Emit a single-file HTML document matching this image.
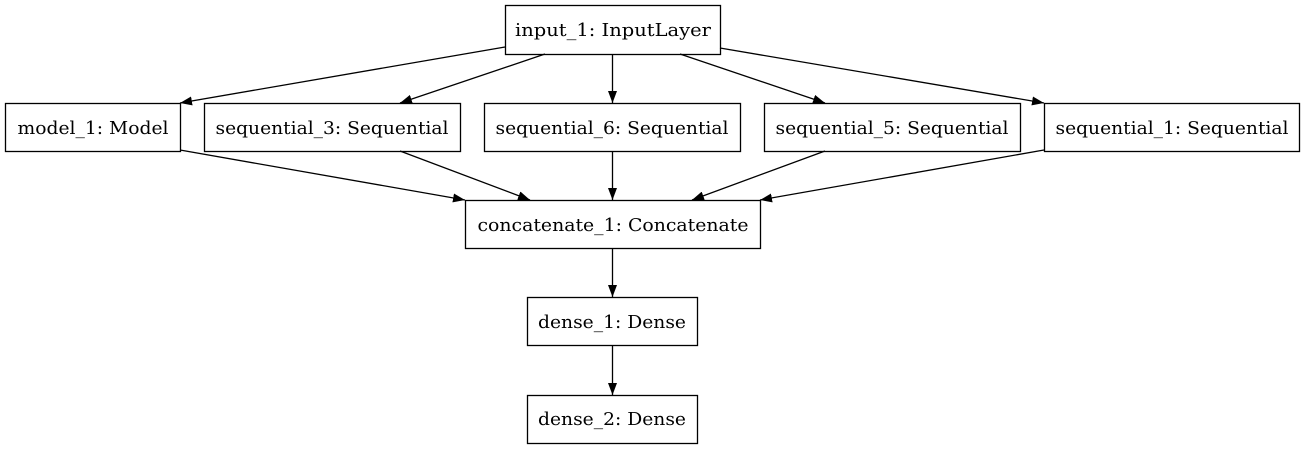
<!DOCTYPE html>
<html><head><meta charset="utf-8"><style>body{margin:0;background:#fff}svg{display:block}</style></head>
<body>
<svg width="1306" height="449" viewBox="0 0 1306 449" xmlns="http://www.w3.org/2000/svg">
<defs><marker id="a" markerWidth="12" markerHeight="9" refX="12" refY="4.5" orient="auto" markerUnits="userSpaceOnUse"><path d="M0,0 L12,4.5 L0,9 z" fill="#000"/></marker></defs>
<g fill="none" stroke="#000" stroke-width="1.3">
<rect x="505.5" y="5.5" width="215" height="49"/>
<rect x="5.5" y="103.5" width="175" height="48"/>
<rect x="204.5" y="103.5" width="256" height="48"/>
<rect x="484.5" y="103.5" width="256" height="48"/>
<rect x="764.5" y="103.5" width="256" height="48"/>
<rect x="1044.5" y="103.5" width="255" height="48"/>
<rect x="465.5" y="200.5" width="295" height="48"/>
<rect x="527.5" y="297.5" width="170" height="48"/>
<rect x="527.5" y="395.5" width="170" height="48"/>
<g marker-end="url(#a)">
<line x1="505" y1="47" x2="180" y2="103"/>
<line x1="545" y1="54" x2="400" y2="103"/>
<line x1="612.5" y1="54" x2="612.5" y2="103"/>
<line x1="680" y1="54" x2="825" y2="103"/>
<line x1="720" y1="48" x2="1044" y2="103"/>
<line x1="180" y1="150" x2="465" y2="200"/>
<line x1="400" y1="151" x2="530" y2="200"/>
<line x1="612.5" y1="151" x2="612.5" y2="200"/>
<line x1="825" y1="151" x2="692" y2="200"/>
<line x1="1044" y1="150" x2="760" y2="200"/>
<line x1="612.5" y1="248" x2="612.5" y2="297"/>
<line x1="612.5" y1="345" x2="612.5" y2="395"/>
</g></g>
<g font-family="'DejaVu Serif','Liberation Serif',serif" font-size="18" fill="#000" text-anchor="middle">
<text x="613" y="36" textLength="196" lengthAdjust="spacingAndGlyphs">input_1: InputLayer</text>
<text x="93" y="134" textLength="151" lengthAdjust="spacingAndGlyphs">model_1: Model</text>
<text x="332" y="134" textLength="233" lengthAdjust="spacingAndGlyphs">sequential_3: Sequential</text>
<text x="612" y="134" textLength="233" lengthAdjust="spacingAndGlyphs">sequential_6: Sequential</text>
<text x="892" y="134" textLength="233" lengthAdjust="spacingAndGlyphs">sequential_5: Sequential</text>
<text x="1172" y="134" textLength="233" lengthAdjust="spacingAndGlyphs">sequential_1: Sequential</text>
<text x="613" y="231" textLength="271" lengthAdjust="spacingAndGlyphs">concatenate_1: Concatenate</text>
<text x="612" y="328" textLength="148" lengthAdjust="spacingAndGlyphs">dense_1: Dense</text>
<text x="612" y="425" textLength="148" lengthAdjust="spacingAndGlyphs">dense_2: Dense</text>
</g>
</svg>
</body></html>
